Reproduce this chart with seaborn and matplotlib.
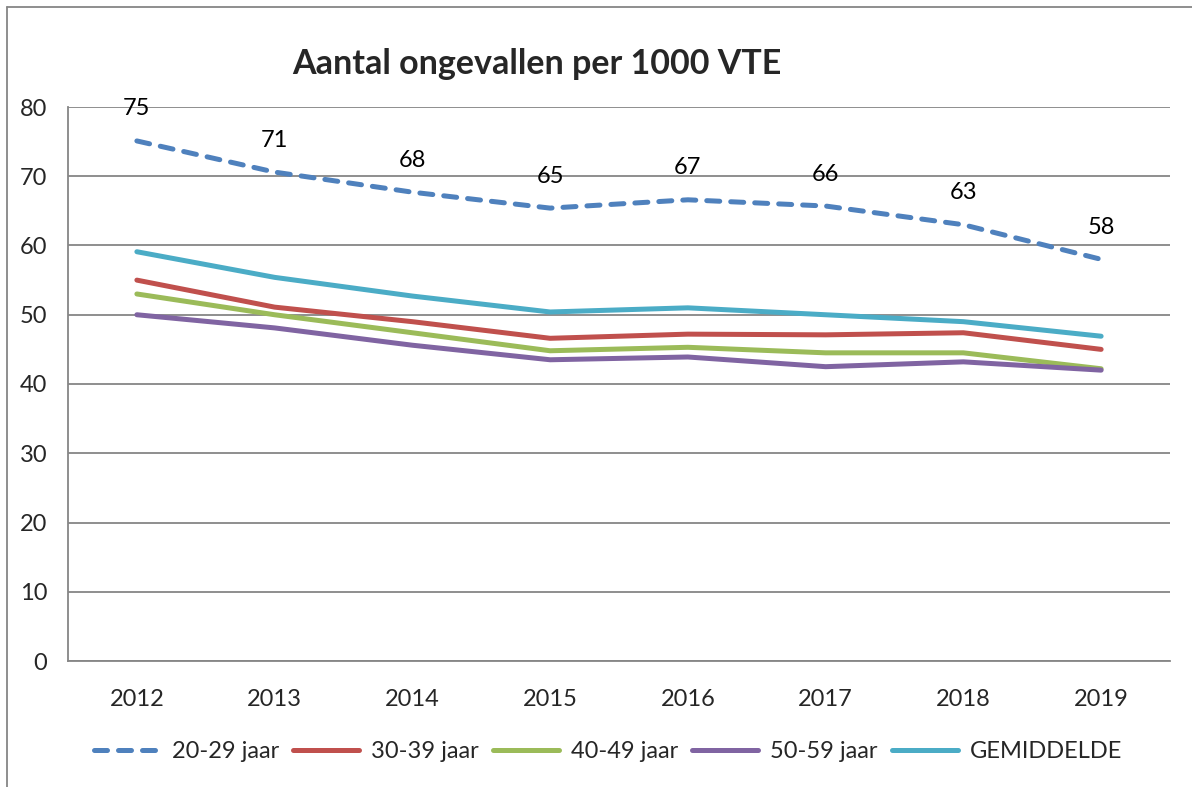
import numpy as np
import pandas as pd
import matplotlib
matplotlib.use("Agg")
import matplotlib.pyplot as plt
from matplotlib.lines import Line2D
import seaborn as sns

# Data
jaren = ["2012", "2013", "2014", "2015", "2016", "2017", "2018", "2019"]
j20_29 = [75.1, 70.6, 67.7, 65.4, 66.6, 65.7, 63.0, 58.0]
j30_39 = [55.0, 51.1, 49.0, 46.6, 47.2, 47.1, 47.4, 45.0]
j40_49 = [53.0, 50.0, 47.4, 44.8, 45.3, 44.5, 44.5, 42.2]
j50_59 = [50.0, 48.1, 45.6, 43.5, 43.9, 42.5, 43.2, 42.0]
gemiddelde = [59.1, 55.4, 52.7, 50.4, 51.0, 50.0, 49.0, 46.9]
labels_20_29 = ["75", "71", "68", "65", "67", "66", "63", "58"]

reeksen = {
    "20-29 jaar": j20_29,
    "30-39 jaar": j30_39,
    "40-49 jaar": j40_49,
    "50-59 jaar": j50_59,
    "GEMIDDELDE": gemiddelde,
}
kleuren = {
    "20-29 jaar": "#4F81BD",
    "30-39 jaar": "#C0504D",
    "40-49 jaar": "#9BBB59",
    "50-59 jaar": "#8064A2",
    "GEMIDDELDE": "#4BACC6",
}

sns.set_style("white")
plt.rcParams["font.family"] = ["Lato", "DejaVu Sans"]

fig = plt.figure(figsize=(11.92, 7.87), dpi=100)
ax = fig.add_axes([68 / 1192, 1 - 661 / 787, (1170 - 68) / 1192, (661 - 107) / 787])

x = np.arange(len(jaren))
for naam, waarden in reeksen.items():
    df = pd.DataFrame({"x": x, "y": waarden})
    kw = dict(color=kleuren[naam], linewidth=3.6, label=naam)
    if naam == "20-29 jaar":
        kw.update(linestyle=(0, (2.6, 2.2)), dash_capstyle="round")
    else:
        kw.update(solid_capstyle="round")
    sns.lineplot(data=df, x="x", y="y", ax=ax, **kw)

# labels boven 20-29
for xi, yi, lab in zip(x, j20_29, labels_20_29):
    ax.annotate(lab, (xi, yi), xytext=(0, 23), textcoords="offset points",
                ha="center", va="center", fontsize=17, color="black")

ax.set_xlim(-0.5, len(jaren) - 0.5)
ax.set_ylim(0, 80)
ax.set_yticks(range(0, 81, 10))
ax.set_xticks(x)
ax.set_xticklabels(jaren)
ax.set_xticks(np.arange(-0.5, len(jaren)), minor=True)
ax.tick_params(axis="x", which="major", length=0, pad=20, labelsize=17)
ax.tick_params(axis="x", which="minor", length=7, width=1.3, color="#868686", direction="out")
ax.tick_params(axis="y", length=7, width=1.3, color="#868686", direction="out", pad=8, labelsize=17)
ax.set_xlabel("")
ax.set_ylabel("")
ax.grid(axis="y", color="#868686", linewidth=1.3)
ax.set_axisbelow(True)
for s in ["top", "right"]:
    ax.spines[s].set_visible(False)
for s in ["left", "bottom"]:
    ax.spines[s].set_color("#868686")
    ax.spines[s].set_linewidth(1.3)
if ax.get_legend():
    ax.get_legend().remove()

fig.text(537 / 1192, 1 - 64 / 787, "Aantal ongevallen per 1000 VTE",
         ha="center", va="center", fontsize=24.5, fontweight="bold")

handles, labels = ax.get_legend_handles_labels()
fig.legend(handles, labels, loc="center", bbox_to_anchor=(0.51, 1 - 752 / 787),
           ncol=5, frameon=False, fontsize=17, handlelength=2.8,
           columnspacing=0.6, handletextpad=0.5)

# kader
fig.add_artist(Line2D([7 / 1192, 7 / 1192], [0, 1 - 7 / 787], color="#868686", linewidth=1.3))
fig.add_artist(Line2D([7 / 1192, 1], [1 - 7 / 787, 1 - 7 / 787], color="#868686", linewidth=1.3))

fig.savefig("out.png", dpi=100)
